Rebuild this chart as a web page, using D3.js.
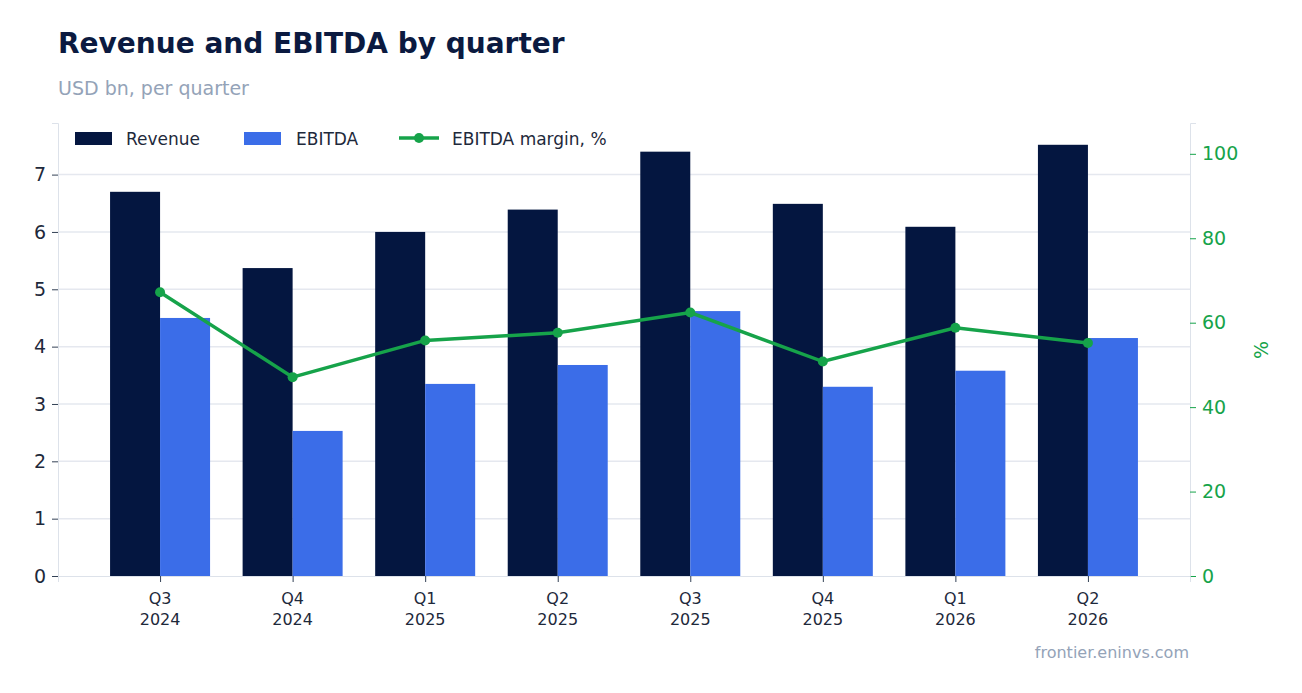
<!DOCTYPE html>
<html><head><meta charset="utf-8">
<script src="https://cdn.jsdelivr.net/npm/d3@7"></script>
<style>body{margin:0;background:#fff;font-family:"DejaVu Sans",sans-serif}</style>
</head><body><svg id="c" width="1302" height="693"></svg>
<script>
const quarters=["Q3 2024","Q4 2024","Q1 2025","Q2 2025","Q3 2025","Q4 2025","Q1 2026","Q2 2026"];
const revenue=[6.70,5.37,6.00,6.39,7.40,6.49,6.09,7.52];
const ebitda=[4.50,2.53,3.35,3.68,4.62,3.30,3.58,4.15];
const margin=[67.2,47.1,55.8,57.6,62.4,50.8,58.8,55.2];
const leftTicks=[0,1,2,3,4,5,6,7];
const rightTicks=[0,20,40,60,80,100];

const svg=d3.select("#c");
const L=58,R=1190,T=123,B=576;
const x=d3.scalePoint().domain(quarters).range([L,R]).padding(0.77);
const y=d3.scaleLinear().domain([0,7.9]).range([B,T]);
const y2=d3.scaleLinear().domain([0,107.3]).range([B,T]);
const bw=50;

svg.append("text").attr("x",58).attr("y",53).attr("font-size",28).attr("font-weight","bold").attr("fill","#0b1a40").text("Revenue and EBITDA by quarter");
svg.append("text").attr("x",58).attr("y",95).attr("font-size",19).attr("fill","#94a3b8").text("USD bn, per quarter");

svg.append("g").selectAll("line").data(leftTicks.slice(1)).join("line")
 .attr("x1",L).attr("x2",R).attr("y1",d=>y(d)).attr("y2",d=>y(d)).attr("stroke","#e5e8ef").attr("stroke-width",1.5);

svg.append("g").selectAll("rect").data(revenue).join("rect")
 .attr("x",(d,i)=>x(quarters[i])-bw).attr("width",bw).attr("y",d=>y(d)).attr("height",d=>B-y(d)).attr("fill","#041640");
svg.append("g").selectAll("rect").data(ebitda).join("rect")
 .attr("x",(d,i)=>x(quarters[i])).attr("width",bw).attr("y",d=>y(d)).attr("height",d=>B-y(d)).attr("fill","#3b6de8");

const line=d3.line().x((d,i)=>x(quarters[i])).y(d=>y2(d));
svg.append("path").datum(margin).attr("d",line).attr("fill","none").attr("stroke","#16a34a").attr("stroke-width",3.5);
svg.append("g").selectAll("circle").data(margin).join("circle").attr("cx",(d,i)=>x(quarters[i])).attr("cy",d=>y2(d)).attr("r",5).attr("fill","#16a34a");

const ga=svg.append("g").attr("transform",`translate(${L},0)`).call(d3.axisLeft(y).tickValues(leftTicks).tickSize(6).tickPadding(6));
ga.select(".domain").attr("stroke","#dde2ea");
ga.selectAll(".tick line").attr("stroke","#334155");
ga.selectAll("text").attr("font-size",19).attr("fill","#1e293b").attr("font-family","DejaVu Sans");

const gr=svg.append("g").attr("transform",`translate(${R},0)`).call(d3.axisRight(y2).tickValues(rightTicks).tickSize(6).tickPadding(6));
gr.select(".domain").attr("stroke","#dde2ea");
gr.selectAll(".tick line").attr("stroke","#16a34a");
gr.selectAll("text").attr("font-size",19).attr("fill","#16a34a").attr("font-family","DejaVu Sans");
svg.append("text").attr("transform","translate(1268,350) rotate(-90)").attr("text-anchor","middle").attr("font-size",19).attr("fill","#16a34a").text("%");

const gb=svg.append("g").attr("transform",`translate(0,${B})`).call(d3.axisBottom(x).tickSize(6).tickFormat(""));
gb.select(".domain").attr("stroke","#dde2ea");
gb.selectAll(".tick line").attr("stroke","#334155");
quarters.forEach(q=>{const p=q.split(" ");
 const t=svg.append("text").attr("x",x(q)).attr("text-anchor","middle").attr("font-size",16).attr("fill","#1e293b");
 t.append("tspan").attr("x",x(q)).attr("y",604).text(p[0]);
 t.append("tspan").attr("x",x(q)).attr("y",625).text(p[1]);});

const lg=svg.append("g");
lg.append("rect").attr("x",75).attr("y",132).attr("width",37).attr("height",13).attr("fill","#041640");
lg.append("text").attr("x",126).attr("y",145).attr("font-size",17).attr("fill","#1e293b").text("Revenue");
lg.append("rect").attr("x",244).attr("y",132).attr("width",37).attr("height",13).attr("fill","#3b6de8");
lg.append("text").attr("x",296).attr("y",145).attr("font-size",17).attr("fill","#1e293b").text("EBITDA");
lg.append("line").attr("x1",399).attr("x2",439).attr("y1",138).attr("y2",138).attr("stroke","#16a34a").attr("stroke-width",3.5);
lg.append("circle").attr("cx",419).attr("cy",138).attr("r",5).attr("fill","#16a34a");
lg.append("text").attr("x",452).attr("y",145).attr("font-size",17).attr("fill","#1e293b").text("EBITDA margin, %");

svg.append("text").attr("x",1189).attr("y",658).attr("text-anchor","end").attr("font-size",16).attr("fill","#94a3b8").text("frontier.eninvs.com");
</script></body></html>
